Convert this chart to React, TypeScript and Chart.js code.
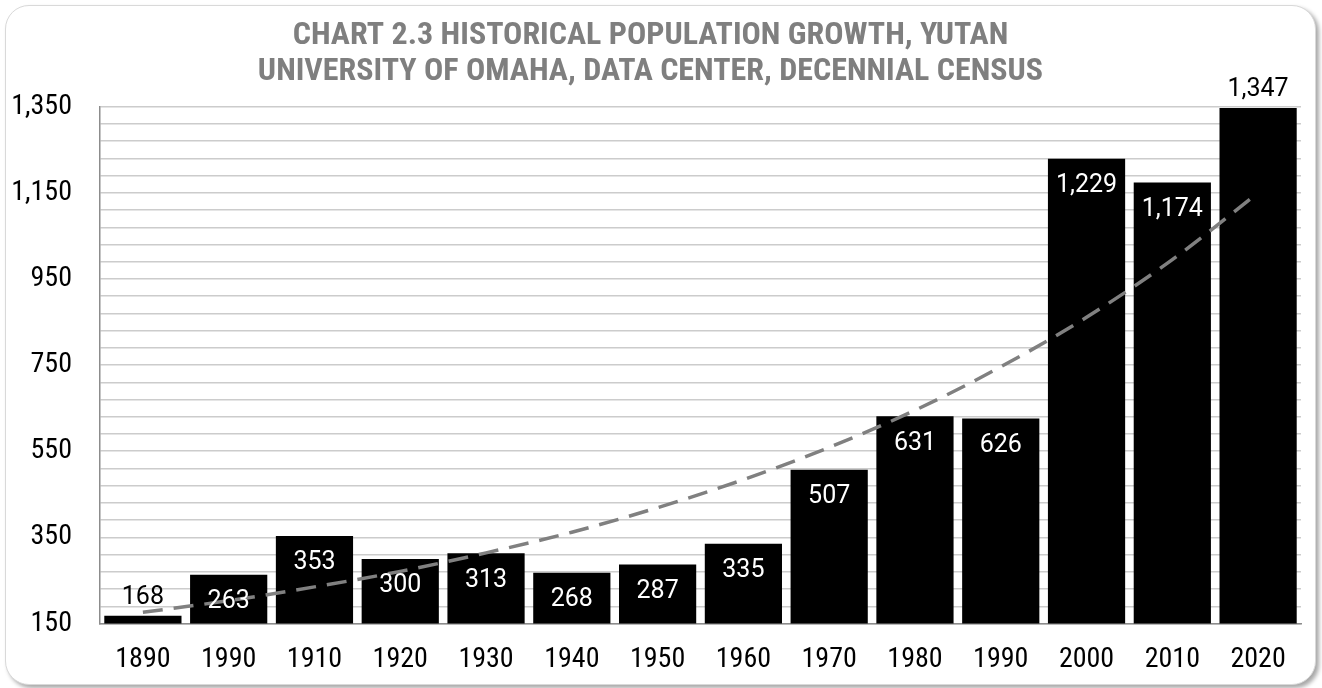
import React, { useEffect, useRef } from 'react';
import { Chart, registerables } from 'chart.js';

Chart.register(...registerables);

const categories = ['1890', '1990', '1910', '1920', '1930', '1940', '1950', '1960', '1970', '1980', '1990', '2000', '2010', '2020'];
const population = [168, 263, 353, 300, 313, 268, 287, 335, 507, 631, 626, 1229, 1174, 1347];
const trendValues = [176, 203, 235, 271, 314, 362, 419, 484, 559, 645, 746, 861, 995, 1150];
const titleLines = ['CHART 2.3 HISTORICAL POPULATION GROWTH, YUTAN', 'UNIVERSITY OF OMAHA, DATA CENTER, DECENNIAL CENSUS'];
const yMin = 150;
const yMax = 1350;
const gridStep = 40;
const labelStep = 200;

const COND = "'Roboto Condensed', 'Liberation Sans Narrow', 'DejaVu Sans Condensed', Roboto, sans-serif";

const barLabelPlugin = {
  id: 'barLabels',
  afterDatasetsDraw(chart: any) {
    const meta = chart.getDatasetMeta(1);
    const ctx = chart.ctx;
    const bottom = chart.chartArea.bottom;
    const maxV = Math.max(...population);
    ctx.save();
    ctx.font = '25px Roboto';
    ctx.textAlign = 'center';
    meta.data.forEach((bar: any, i: number) => {
      const v = population[i];
      const text = v.toLocaleString('en-US');
      const h = bottom - bar.y;
      const outside = h < 40 || v === maxV;
      if (outside) {
        ctx.fillStyle = '#000';
        ctx.textBaseline = 'alphabetic';
        ctx.fillText(text, bar.x, bar.y - 12);
      } else {
        ctx.fillStyle = '#fff';
        ctx.textBaseline = 'middle';
        ctx.fillText(text, bar.x, bar.y + 27);
      }
    });
    ctx.restore();
  },
};

export default function App() {
  const ref = useRef<HTMLCanvasElement>(null);

  useEffect(() => {
    if (!ref.current) return;
    const chart = new Chart(ref.current, {
      type: 'bar',
      data: {
        labels: categories,
        datasets: [
          {
            type: 'line',
            label: 'Trend',
            data: trendValues,
            borderColor: '#808080',
            borderWidth: 3.5,
            borderDash: [20, 11],
            pointRadius: 0,
            fill: false,
            cubicInterpolationMode: 'monotone',
            order: 0,
          } as any,
          {
            type: 'bar',
            label: 'Population',
            data: population,
            backgroundColor: '#000',
            barPercentage: 0.9,
            categoryPercentage: 1,
            order: 1,
          },
        ],
      },
      options: {
        responsive: false,
        maintainAspectRatio: false,
        animation: false,
        layout: { padding: { top: 18, left: 0, right: 21, bottom: 0 } },
        plugins: {
          legend: { display: false },
          tooltip: { enabled: false },
          title: {
            display: true,
            text: titleLines,
            color: '#7f7f7f',
            font: { family: COND, size: 32, weight: 'bold', lineHeight: 1.12 },
            padding: { top: 0, bottom: 17 },
          },
        },
        scales: {
          x: {
            grid: { display: false, drawTicks: false },
            border: { display: true, color: '#8c8c8c', width: 1.5 },
            ticks: { color: '#000', font: { family: COND, size: 28 }, padding: 20 },
            afterFit: (s: any) => { s.height = 64.5; },
          },
          y: {
            min: yMin,
            max: yMax,
            afterBuildTicks: (s: any) => {
              const t = [];
              for (let v = yMin; v <= yMax; v += gridStep) t.push({ value: v });
              s.ticks = t;
            },
            ticks: {
              autoSkip: false,
              color: '#000',
              font: { family: COND, size: 28 },
              padding: 28,
              callback: (v: any) => ((v - yMin) % labelStep === 0 ? Number(v).toLocaleString('en-US') : ''),
            },
            grid: { color: '#cccccc', lineWidth: 1.5, drawTicks: false },
            border: { display: true, color: '#8c8c8c', width: 1.5 },
            afterFit: (s: any) => { s.width = 100; },
          },
        },
      } as any,
      plugins: [barLabelPlugin],
    });
    return () => chart.destroy();
  }, []);

  return (
    <div style={{ position: 'fixed', left: 0, top: 0, width: 1322, height: 688, background: '#fff' }}>
      <div
        style={{
          position: 'absolute',
          left: 5,
          top: 5,
          width: 1309,
          height: 678,
          border: '1px solid #d9d9d9',
          borderRadius: 24,
          boxShadow: '3px 3px 4px rgba(0,0,0,0.35)',
          background: '#fff',
        }}
      />
      <canvas ref={ref} width={1322} height={688} style={{ position: 'absolute', left: 0, top: 0, width: 1322, height: 688 }} />
    </div>
  );
}
